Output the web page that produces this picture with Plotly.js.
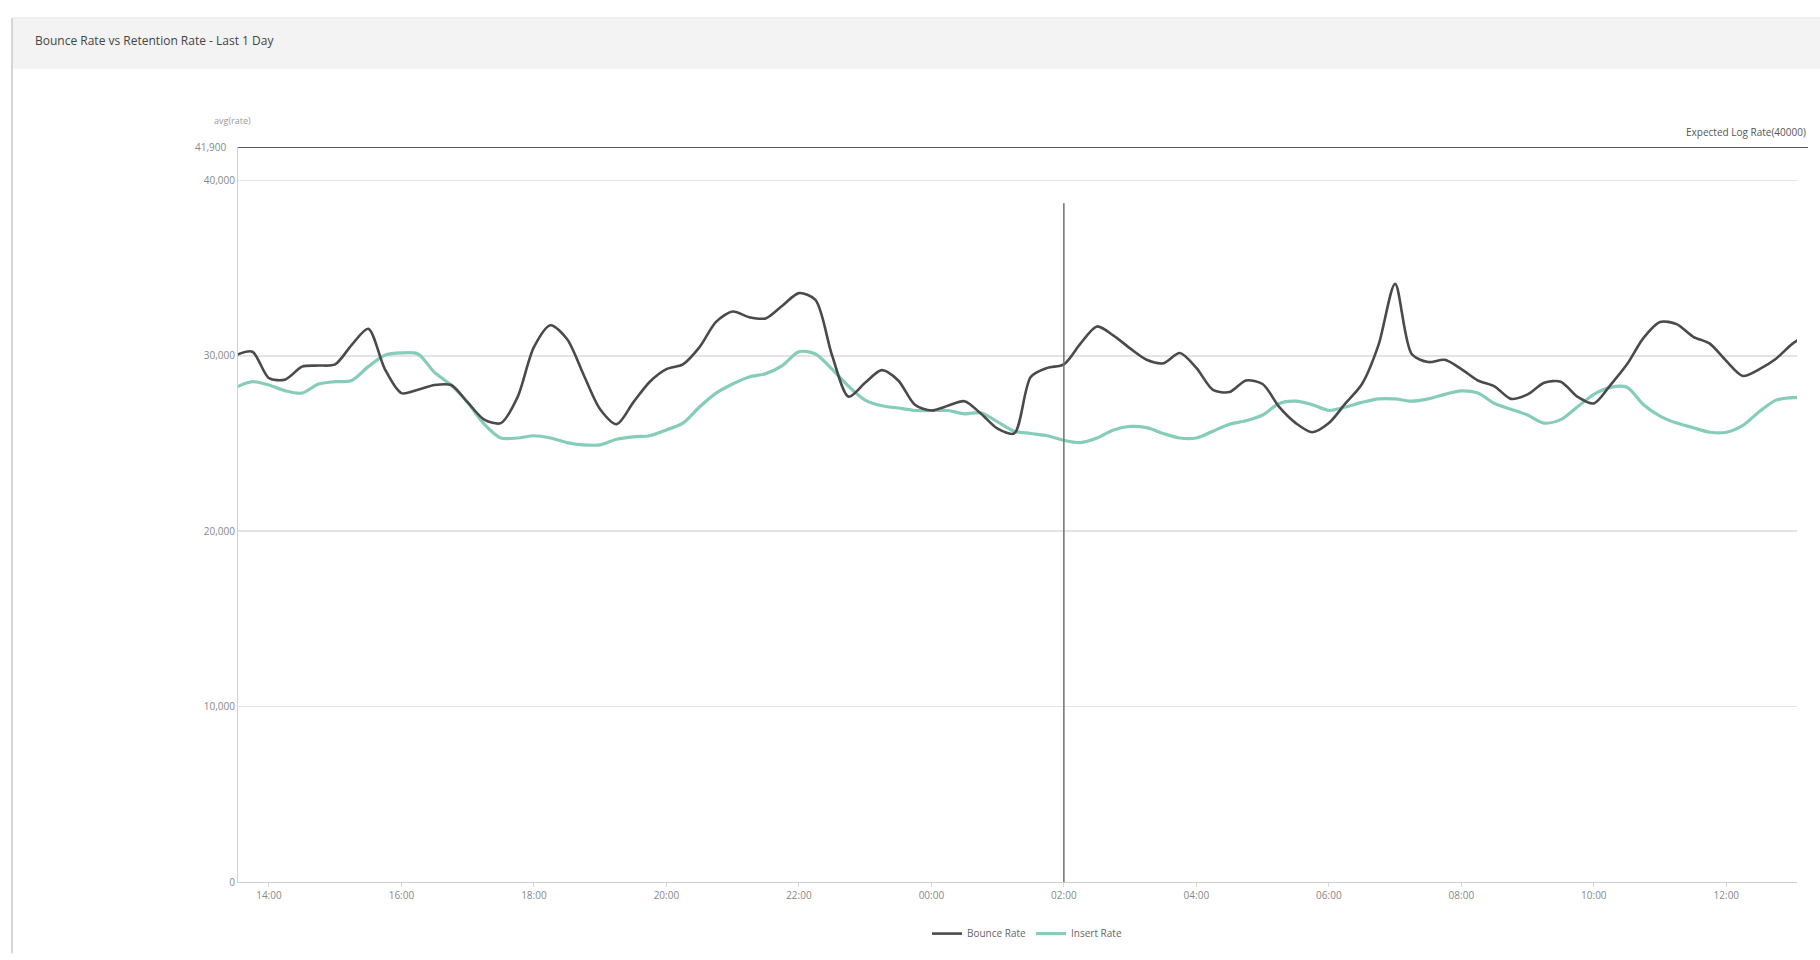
<!DOCTYPE html>
<html>
<head>
<meta charset="utf-8">
<script src="https://cdn.plot.ly/plotly-3.0.1.min.js"></script>
<style>
  html, body { margin: 0; padding: 0; background: #ffffff; }
  #chart { width: 1820px; height: 960px; }
</style>
</head>
<body>
<div id="chart"></div>
<script>
// ---- data ----
const startTime = "2024-01-06T13:30:00";   // first sample
const stepMinutes = 15;                   // sampling interval

const bounceRate = [
  30030, 30230, 28720, 28650, 29380, 29440, 29510, 30620, 31540, 29240,
  27870, 28060, 28330, 28330, 27340, 26360, 26160, 27610, 30490, 31740,
  30950, 28920, 26950, 26100, 27340, 28520, 29240, 29510, 30490, 31930,
  32520, 32200, 32130, 32850, 33570, 33180, 30030, 27670, 28460, 29180,
  28590, 27210, 26880, 27150, 27410, 26690, 25840, 25570, 28790, 29310,
  29510, 30690, 31670, 31150, 30420, 29770, 29570, 30160, 29310, 28060,
  27930, 28590, 28390, 27080, 26160, 25640, 26160, 27280, 28390, 30620,
  34100, 30100, 29640, 29770, 29240, 28590, 28260, 27540, 27800, 28460,
  28520, 27670, 27280, 28330, 29510, 31020, 31930, 31800, 31080, 30690,
  29700, 28850, 29240, 29830, 30690, 31280
];

const insertRate = [
  28200, 28520, 28330, 28000, 27870, 28390, 28520, 28590, 29380, 30030,
  30160, 30100, 29050, 28330, 27340, 26100, 25310, 25310, 25440, 25310,
  25050, 24920, 24920, 25240, 25380, 25440, 25770, 26160, 27080, 27870,
  28390, 28790, 28980, 29440, 30230, 30100, 29240, 28260, 27470, 27150,
  27020, 26880, 26880, 26880, 26690, 26750, 26230, 25700, 25570, 25440,
  25180, 25050, 25310, 25770, 25970, 25900, 25570, 25310, 25310, 25700,
  26100, 26290, 26620, 27280, 27410, 27210, 26880, 27080, 27340, 27540,
  27540, 27410, 27540, 27800, 28000, 27870, 27280, 26950, 26620, 26160,
  26360, 27080, 27800, 28200, 28200, 27210, 26560, 26160, 25900, 25640,
  25640, 26030, 26820, 27470, 27610, 27670
];

const seriesNames = ["Bounce Rate", "Insert Rate"];
const yTickVals = [0, 10000, 20000, 30000, 40000];
const yTickText = ["0", "10,000", "20,000", "30,000", "40,000"];
const thresholdValue = 41900;
const thresholdLabel = "41,900";
const markerTime = "2024-01-07T02:00:00";
const markerTop = 38700;
const chartTitle = "Bounce Rate vs Retention Rate - Last 1 Day";
const yAxisLabel = "avg(rate)";
const thresholdName = "Expected Log Rate(40000)";

// ---- build time axis ----
function pad(n) { return (n < 10 ? "0" : "") + n; }
const t0 = new Date(startTime + "Z").getTime();
const times = bounceRate.map((_, i) => {
  const d = new Date(t0 + i * stepMinutes * 60000);
  return d.getUTCFullYear() + "-" + pad(d.getUTCMonth() + 1) + "-" + pad(d.getUTCDate()) +
    " " + pad(d.getUTCHours()) + ":" + pad(d.getUTCMinutes()) + ":00";
});

// ---- geometry helpers (plot area in px) ----
const L = 238, R = 1797, T = 147, B = 888;
const W = 1820, H = 960;
const px = x => (x - L) / (R - L);
const py = y => (B - y) / (B - T);

const traces = [
  {
    x: times, y: insertRate, name: seriesNames[1], type: "scatter", mode: "lines",
    line: { color: "#86cdb9", width: 3.2, shape: "spline", smoothing: 0.8 },
    hoverinfo: "x+y+name"
  },
  {
    x: times, y: bounceRate, name: seriesNames[0], type: "scatter", mode: "lines",
    line: { color: "#4a4a4a", width: 2.6, shape: "spline", smoothing: 0.8 },
    hoverinfo: "x+y+name"
  }
];

const layout = {
  width: W, height: H,
  paper_bgcolor: "#ffffff", plot_bgcolor: "#ffffff",
  margin: { l: L, r: W - R, t: T, b: H - B, pad: 0 },
  font: { family: "Open Sans, Liberation Sans, sans-serif", color: "#777", size: 10 },
  title: {
    text: chartTitle, xref: "container", yref: "container",
    x: 35 / W, xanchor: "left", y: 1 - 41 / H, yanchor: "middle",
    font: { size: 12, color: "#444", family: "Open Sans, Liberation Sans, sans-serif" }
  },
  showlegend: true,
  legend: {
    orientation: "h", x: (1027 - L) / (R - L), xanchor: "center",
    y: py(940), yanchor: "middle", traceorder: "reversed",
    font: { size: 10, color: "#666" }, bgcolor: "rgba(0,0,0,0)", itemwidth: 30
  },
  xaxis: {
    type: "date",
    range: ["2024-01-06 13:32:00", "2024-01-07 13:04:00"],
    tick0: "2024-01-06 14:00:00", dtick: 7200000, tickformat: "%H:%M",
    showgrid: false, zeroline: false,
    showline: true, linecolor: "#d0d0d0", linewidth: 1,
    ticks: "outside", ticklen: 4, tickcolor: "#d8d8d8",
    tickfont: { size: 10, color: "#888" }
  },
  yaxis: {
    range: [0, thresholdValue], tickmode: "array", tickvals: yTickVals, ticktext: yTickText,
    showgrid: true, gridcolor: "#e4e4e4", gridwidth: 1.5, zeroline: false,
    showline: true, linecolor: "#d0d0d0", linewidth: 1,
    ticks: "", tickfont: { size: 10, color: "#888" }
  },
  shapes: [
    // panel title band
    { type: "rect", xref: "paper", yref: "paper", x0: px(12), x1: px(1820), y0: py(68), y1: py(17),
      fillcolor: "#f3f3f3", line: { width: 0 }, layer: "below" },
    // panel left border
    { type: "line", xref: "paper", yref: "paper", x0: px(12), x1: px(12), y0: py(960), y1: py(17),
      line: { color: "#d6d6d6", width: 2 } },
    // panel top border
    { type: "line", xref: "paper", yref: "paper", x0: px(12), x1: px(1820), y0: py(17), y1: py(17),
      line: { color: "#e4e4e4", width: 1 } },
    // threshold line
    { type: "line", xref: "paper", yref: "y", x0: 0, x1: px(1808), y0: thresholdValue, y1: thresholdValue,
      line: { color: "#5a5a5a", width: 2 } },
    // vertical marker
    { type: "line", xref: "x", yref: "y", x0: markerTime, x1: markerTime, y0: 0, y1: markerTop,
      line: { color: "#707070", width: 1.5 } }
  ],
  annotations: [
    { text: yAxisLabel, xref: "paper", yref: "paper", x: px(232), y: py(120), xanchor: "center", yanchor: "middle",
      showarrow: false, font: { size: 9, color: "#999" } },
    { text: thresholdLabel, xref: "paper", yref: "y", x: px(228), y: thresholdValue, xanchor: "right", yanchor: "middle",
      showarrow: false, font: { size: 10, color: "#888" } },
    { text: thresholdName, xref: "paper", yref: "paper", x: px(1808), y: py(132), xanchor: "right", yanchor: "middle",
      showarrow: false, font: { size: 10, color: "#555" } }
  ]
};

Plotly.newPlot("chart", traces, layout, { displayModeBar: false, staticPlot: true });
</script>
</body>
</html>
